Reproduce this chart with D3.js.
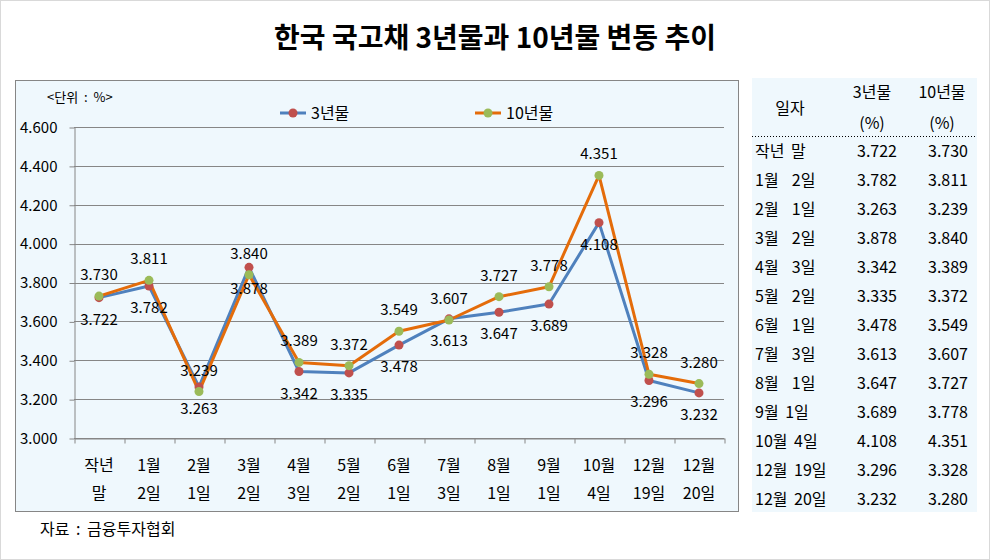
<!DOCTYPE html>
<html>
<head>
<meta charset="utf-8">
<script src="https://cdn.jsdelivr.net/npm/d3@7"></script>
<style>
  body { margin: 0; background: #fff; }
  svg { display: block; font-family: "Noto Sans CJK KR", "Noto Sans", sans-serif; }
</style>
</head>
<body>
<svg id="chart" width="990" height="560"></svg>
<script>
// x axis labels, two lines each
const catTop = ['작년', '1월', '2월', '3월', '4월', '5월', '6월', '7월', '8월', '9월', '10월', '12월', '12월'];
const catBottom = ['말', '2일', '1일', '2일', '3일', '2일', '1일', '3일', '1일', '1일', '4일', '19일', '20일'];
// table date column
const tableDates = ['작년 말', '1월  2일', '2월  1일', '3월  2일', '4월  3일', '5월  2일', '6월  1일',
  '7월  3일', '8월  1일', '9월 1일', '10월 4일', '12월 19일', '12월 20일'];
const yr3 = [3.722, 3.782, 3.263, 3.878, 3.342, 3.335, 3.478, 3.613, 3.647, 3.689, 4.108, 3.296, 3.232];
const yr10 = [3.730, 3.811, 3.239, 3.840, 3.389, 3.372, 3.549, 3.607, 3.727, 3.778, 4.351, 3.328, 3.280];
const yTicks = [3.0, 3.2, 3.4, 3.6, 3.8, 4.0, 4.2, 4.4, 4.6];

const svg = d3.select('#chart');
const fmt = d3.format('.3f');

// outer frame
svg.append('rect').attr('x', 0.5).attr('y', 0.5).attr('width', 989).attr('height', 559)
  .attr('fill', '#fff').attr('stroke', '#d9d9d9');

// title
svg.append('text').attr('x', 495).attr('y', 48).attr('text-anchor', 'middle')
  .attr('font-size', 28).attr('font-weight', 'bold').text('한국 국고채 3년물과 10년물 변동 추이');

// chart box
svg.append('rect').attr('x', 15.5).attr('y', 80.5).attr('width', 723).attr('height', 431)
  .attr('fill', '#eff8fd').attr('stroke', '#868686');

const plotL = 74, plotR = 724, plotT = 127, plotB = 438;
const x = d3.scaleBand().domain(d3.range(catTop.length)).range([plotL, plotR]);
const xEdge = d3.scaleLinear().domain([0, catTop.length]).range([plotL, plotR]);
const y = d3.scaleLinear().domain([3.0, 4.6]).range([plotB, plotT]);
const cx = i => x(i) + x.bandwidth() / 2;

// grid lines
svg.append('g').selectAll('line').data(yTicks).join('line')
  .attr('x1', plotL).attr('x2', plotR)
  .attr('y1', d => Math.round(y(d)) + 0.5).attr('y2', d => Math.round(y(d)) + 0.5)
  .attr('stroke', '#868686');

// y axis
const yAxis = svg.append('g').attr('transform', `translate(${plotL + 0.5},0.5)`)
  .call(d3.axisLeft(y).tickValues(yTicks).tickFormat(fmt).tickSize(5).tickSizeOuter(0));
yAxis.select('.domain').attr('stroke', '#868686');
yAxis.selectAll('.tick line').attr('stroke', '#868686');
yAxis.selectAll('.tick text').attr('font-size', 15).attr('fill', '#000').attr('x', -17)
  .attr('font-family', '"Noto Sans CJK KR", sans-serif');

// x axis
const xAxis = svg.append('g').attr('transform', `translate(0.5,${plotB + 0.5})`)
  .call(d3.axisBottom(xEdge).tickValues(d3.range(catTop.length + 1)).tickFormat('').tickSize(5).tickSizeOuter(0));
xAxis.select('.domain').attr('stroke', '#868686');
xAxis.selectAll('.tick line').attr('stroke', '#868686');

const xl = svg.append('g').attr('font-size', 16).attr('text-anchor', 'middle');
xl.selectAll('text.top').data(catTop).join('text').attr('class', 'top')
  .attr('x', (d, i) => cx(i)).attr('y', 471).text(d => d);
xl.selectAll('text.bot').data(catBottom).join('text').attr('class', 'bot')
  .attr('x', (d, i) => cx(i)).attr('y', 499).text(d => d);

// unit
svg.append('text').attr('x', 47).attr('y', 102).attr('font-size', 13).attr('word-spacing', 3)
  .text('<단위 : %>');

// series
const series = [
  { name: '3년물', values: yr3, line: '#4f81bd', dot: '#c0504d', dy: 27, lx: 280 },
  { name: '10년물', values: yr10, line: '#e46c0a', dot: '#9bbb59', dy: -16, lx: 475 }
];
const line = d3.line().x((d, i) => cx(i)).y(d => y(d));

series.forEach(s => {
  svg.append('path').datum(s.values).attr('d', line)
    .attr('fill', 'none').attr('stroke', s.line).attr('stroke-width', 3).attr('stroke-linejoin', 'round');
});
series.forEach(s => {
  svg.append('g').selectAll('circle').data(s.values).join('circle')
    .attr('cx', (d, i) => cx(i)).attr('cy', d => y(d)).attr('r', 4.5).attr('fill', s.dot);
});
series.forEach(s => {
  svg.append('g').attr('font-size', 15).attr('text-anchor', 'middle')
    .selectAll('text').data(s.values).join('text')
    .attr('x', (d, i) => cx(i)).attr('y', d => y(d) + s.dy).text(d => fmt(d));
});

// legend
series.forEach(s => {
  const g = svg.append('g');
  g.append('line').attr('x1', s.lx).attr('x2', s.lx + 26).attr('y1', 113).attr('y2', 113)
    .attr('stroke', s.line).attr('stroke-width', 3);
  g.append('circle').attr('cx', s.lx + 13).attr('cy', 113).attr('r', 4.5).attr('fill', s.dot);
  g.append('text').attr('x', s.lx + 31).attr('y', 119).attr('font-size', 16).text(s.name);
});

// source
svg.append('text').attr('x', 40).attr('y', 535).attr('font-size', 16).attr('word-spacing', 3)
  .text('자료 : 금융투자협회');

// table
svg.append('rect').attr('x', 752).attr('y', 78).attr('width', 225).attr('height', 434).attr('fill', '#eff8fd');
const tb = svg.append('g').attr('font-size', 16);
tb.append('text').attr('x', 790).attr('y', 114).attr('text-anchor', 'middle').text('일자');
tb.append('text').attr('x', 872).attr('y', 98).attr('text-anchor', 'middle').text('3년물');
tb.append('text').attr('x', 872).attr('y', 129).attr('text-anchor', 'middle').text('(%)');
tb.append('text').attr('x', 942).attr('y', 98).attr('text-anchor', 'middle').text('10년물');
tb.append('text').attr('x', 942).attr('y', 129).attr('text-anchor', 'middle').text('(%)');
tb.append('line').attr('x1', 752).attr('x2', 977).attr('y1', 136.5).attr('y2', 136.5)
  .attr('stroke', '#000').attr('stroke-dasharray', '1,2');

const rowY = d3.scaleLinear().domain([0, tableDates.length - 1]).range([157, 505]);
tb.selectAll('text.d').data(tableDates).join('text').attr('class', 'd')
  .attr('x', 755).attr('y', (d, i) => rowY(i)).attr('word-spacing', 3)
  .style('white-space', 'pre').text(d => d);
tb.selectAll('text.v3').data(yr3).join('text').attr('class', 'v3')
  .attr('x', 897).attr('y', (d, i) => rowY(i)).attr('text-anchor', 'end').text(d => fmt(d));
tb.selectAll('text.v10').data(yr10).join('text').attr('class', 'v10')
  .attr('x', 968).attr('y', (d, i) => rowY(i)).attr('text-anchor', 'end').text(d => fmt(d));
</script>
</body>
</html>
